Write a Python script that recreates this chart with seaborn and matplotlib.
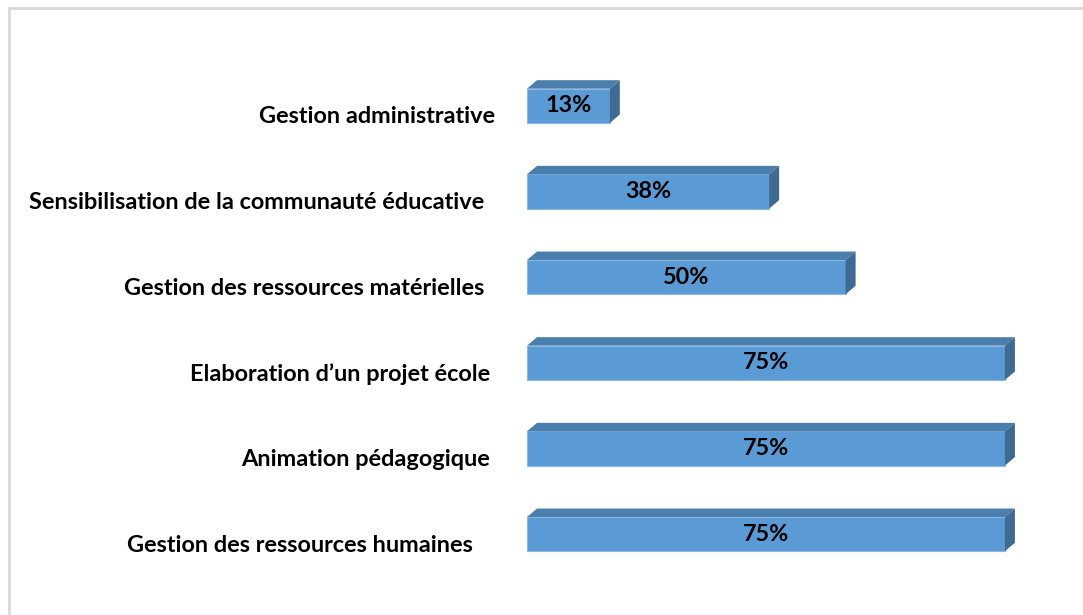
import matplotlib.pyplot as plt
import matplotlib.transforms as mtransforms
import pandas as pd
import seaborn as sns
from matplotlib.patches import Polygon, Rectangle

# Data (top to bottom)
categories = [
    "Gestion administrative",
    "Sensibilisation de la communauté éducative",
    "Gestion des ressources matérielles",
    "Elaboration d\u2019un projet école",
    "Animation pédagogique",
    "Gestion des ressources humaines",
]
values = [13, 38, 50, 75, 75, 75]
value_labels = ["13%", "38%", "50%", "75%", "75%", "75%"]

df = pd.DataFrame({"category": categories, "value": values})

sns.set_theme(style="white")
plt.rcParams["font.family"] = ["Lato", "DejaVu Sans"]

W, H = 1083, 615
fig = plt.figure(figsize=(W / 100, H / 100), dpi=100)
ax = fig.add_axes([527 / W, 1 - 577 / H, 548 / W, 514 / H])

front = "#5b9bd5"
top_col = "#4a7eac"
side_col = "#3f6b93"

sns.barplot(data=df, y="category", x="value", order=categories, orient="h",
            width=0.4, color=front, saturation=1, edgecolor="#8db7e2",
            linewidth=0.8, ax=ax)

ax.set_xlim(0, 86)
ax.set_ylim(5.5, -0.5)
fig.canvas.draw()

# depth of the 3D effect, converted from pixels into data units
p0 = ax.transData.transform((0, 0))
p1 = ax.transData.transform((1, 1))
dx = 10 / (p1[0] - p0[0])
dy = 8.5 / (p1[1] - p0[1])  # negative since the y axis is inverted

for bar, lab in zip(ax.patches, value_labels):
    x0 = bar.get_x()
    x1 = x0 + bar.get_width()
    yt = bar.get_y()
    yb = yt + bar.get_height()
    # top face
    ax.add_patch(Polygon([(x0, yt), (x1, yt), (x1 + dx, yt + dy), (x0 + dx, yt + dy)],
                         closed=True, facecolor=top_col, edgecolor="none", zorder=1))
    # side face
    ax.add_patch(Polygon([(x1, yt), (x1 + dx, yt + dy), (x1 + dx, yb + dy), (x1, yb)],
                         closed=True, facecolor=side_col, edgecolor="none", zorder=1))
    ax.text((x0 + x1) / 2, (yt + yb) / 2, lab, ha="center", va="center",
            fontsize=16.8, fontweight="bold", color="black", zorder=5)

ax.set_xlabel("")
ax.set_ylabel("")
ax.set_xticks([])
ax.tick_params(axis="y", length=0, pad=0)

# right edge of each category label (pixels), as laid out in the original
label_right = [495, 484, 484, 490, 490, 473]
for t, r in zip(ax.get_yticklabels(), label_right):
    t.set_fontsize(16.9)
    t.set_fontweight("bold")
    t.set_color("black")
    shift = mtransforms.ScaledTranslation((r - 527) / 100, -9 / 100, fig.dpi_scale_trans)
    t.set_transform(t.get_transform() + shift)
sns.despine(ax=ax, left=True, bottom=True)

# light chart-area frame (runs off the right and bottom edges)
fig.patches.append(Rectangle((8.5 / W, -0.1), 1.2, 1 - 7.5 / H + 0.1,
                             transform=fig.transFigure, fill=False,
                             edgecolor="#d9d9d9", linewidth=2))

fig.savefig("out.png", dpi=100)
